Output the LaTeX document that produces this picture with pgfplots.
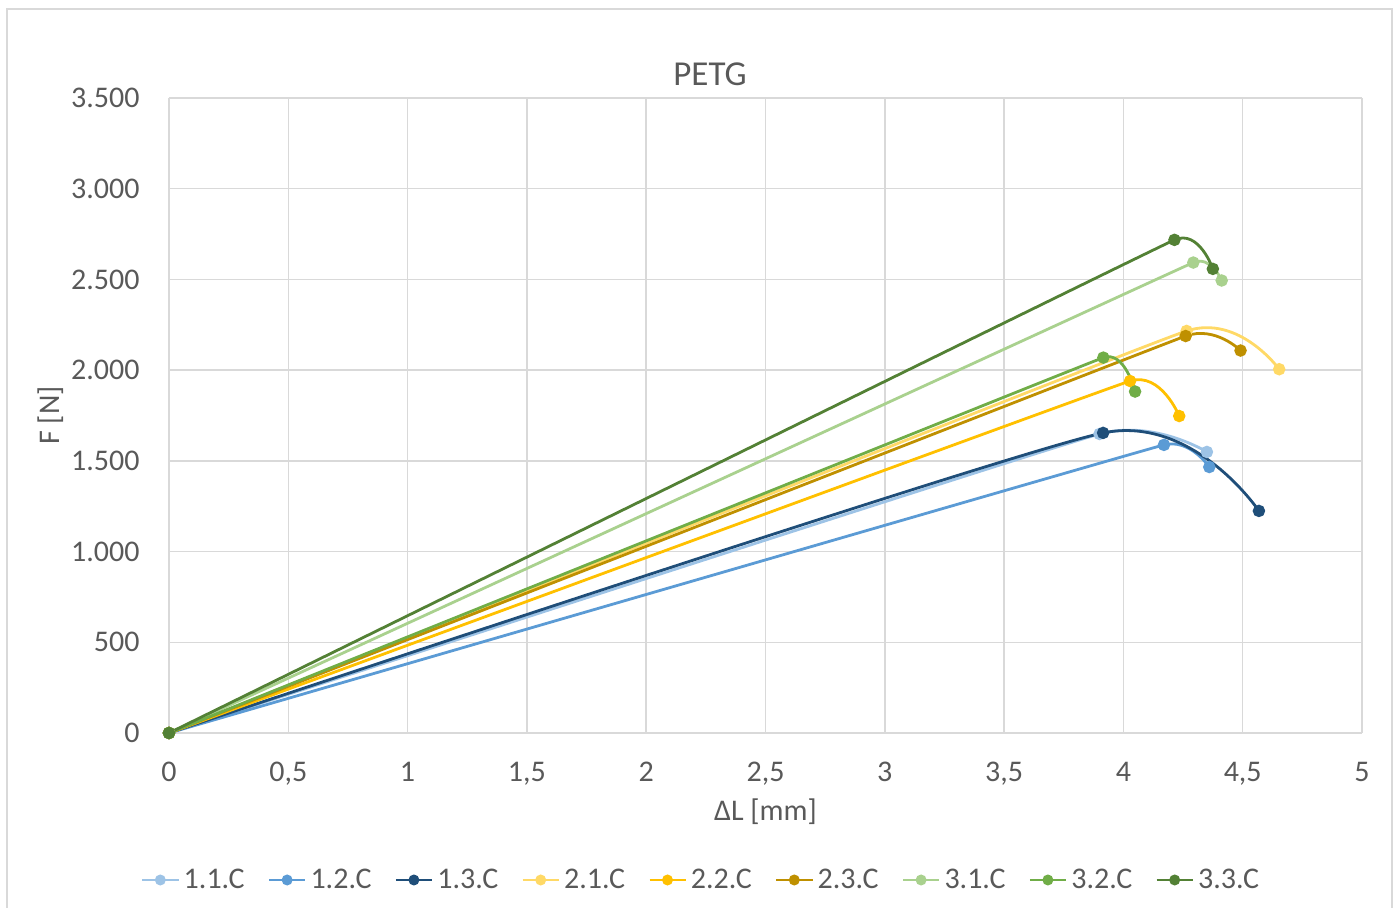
\documentclass[border=0pt]{standalone}
\usepackage{fontspec}
\setmainfont{Carlito}
\usepackage{pgfplots}
\pgfplotsset{compat=1.18}
\definecolor{txt}{HTML}{595959}
\definecolor{grd}{HTML}{D9D9D9}
\definecolor{cA}{HTML}{9DC3E6}
\definecolor{cB}{HTML}{5B9BD5}
\definecolor{cC}{HTML}{1F4E79}
\definecolor{cD}{HTML}{FFD966}
\definecolor{cE}{HTML}{FFC000}
\definecolor{cF}{HTML}{BF9000}
\definecolor{cG}{HTML}{A9D18E}
\definecolor{cH}{HTML}{70AD47}
\definecolor{cI}{HTML}{538135}
\begin{document}
\begin{tikzpicture}
\useasboundingbox (-84.5pt,-87.5pt) rectangle (615pt,366.5pt);
\draw[grd,line width=0.6pt] (-81pt,362pt) rectangle (611.5pt,-95pt);
\begin{axis}[
  scale only axis,
  width=596.5pt, height=317.5pt,
  xmin=0, xmax=5, ymin=0, ymax=3500,
  xtick={0,0.5,...,5}, ytick={0,500,...,3500},
  scaled ticks=false,
  /pgf/number format/.cd, use comma, assume math mode=true, /pgfplots/.cd,
  grid=major,
  grid style={grd, line width=0.75pt},
  axis line style={draw=none},
  major tick length=0pt,
  tick style={draw=none},
  every tick label/.append style={font=\fontsize{15}{18}\selectfont, text=txt},
  yticklabel style={anchor=east, inner sep=0pt, xshift=-14.5pt},
  xticklabel style={anchor=base, inner sep=0pt, yshift=-24.5pt},
  xlabel={ΔL [mm]},
  ylabel={F [N]},
  label style={font=\fontsize{15}{18}\selectfont, text=txt},
  xlabel style={at={(axis description cs:0.5,0)}, anchor=base, inner sep=0pt, yshift=-44pt},
  ylabel style={at={(axis description cs:-0.0922,0.5)}, anchor=base, inner sep=0pt},
  every axis plot/.append style={line width=1.4pt, smooth, mark=*, mark size=2.4pt},
  legend columns=9,
  legend style={draw=none, fill=none, at={(0.4468,-0.2315)}, anchor=center,
    font=\fontsize{15}{18}\selectfont, text=txt,
    /tikz/every even column/.append style={column sep=9.5pt},
    inner sep=0pt},
  legend image code/.code={\draw[mark repeat=2,mark phase=2,mark size=2pt] plot coordinates {(0pt,0pt)(9pt,0pt)(18pt,0pt)};},
]
\addplot[color=cA, tension=0.19, mark options={fill=cA, draw=cA}] coordinates {(0,0) (3.90,1648) (4.35,1549)};
\addlegendentry{1.1.C}
\addplot[color=cB, tension=0.09, mark options={fill=cB, draw=cB}] coordinates {(0,0) (4.17,1588) (4.36,1466)};
\addlegendentry{1.2.C}
\addplot[color=cC, tension=0.3, mark options={fill=cC, draw=cC}] coordinates {(0,0) (3.915,1654) (4.568,1224)};
\addlegendentry{1.3.C}
\addplot[color=cD, tension=0.17, mark options={fill=cD, draw=cD}] coordinates {(0,0) (4.265,2216) (4.653,2005)};
\addlegendentry{2.1.C}
\addplot[color=cE, tension=0.11, mark options={fill=cE, draw=cE}] coordinates {(0,0) (4.028,1940) (4.234,1747)};
\addlegendentry{2.2.C}
\addplot[color=cF, tension=0.1, mark options={fill=cF, draw=cF}] coordinates {(0,0) (4.261,2188) (4.491,2108)};
\addlegendentry{2.3.C}
\addplot[color=cG, tension=0.06, mark options={fill=cG, draw=cG}] coordinates {(0,0) (4.293,2593) (4.412,2494)};
\addlegendentry{3.1.C}
\addplot[color=cH, tension=0.08, mark options={fill=cH, draw=cH}] coordinates {(0,0) (3.916,2069) (4.049,1882)};
\addlegendentry{3.2.C}
\addplot[color=cI, tension=0.085, mark options={fill=cI, draw=cI}] coordinates {(0,0) (4.214,2718) (4.375,2558)};
\addlegendentry{3.3.C}
\end{axis}
\node[anchor=base, text=txt, font=\fontsize{17.5}{21}\selectfont, inner sep=0pt] at (270.5pt,323.5pt) {PETG};
\end{tikzpicture}
\end{document}
